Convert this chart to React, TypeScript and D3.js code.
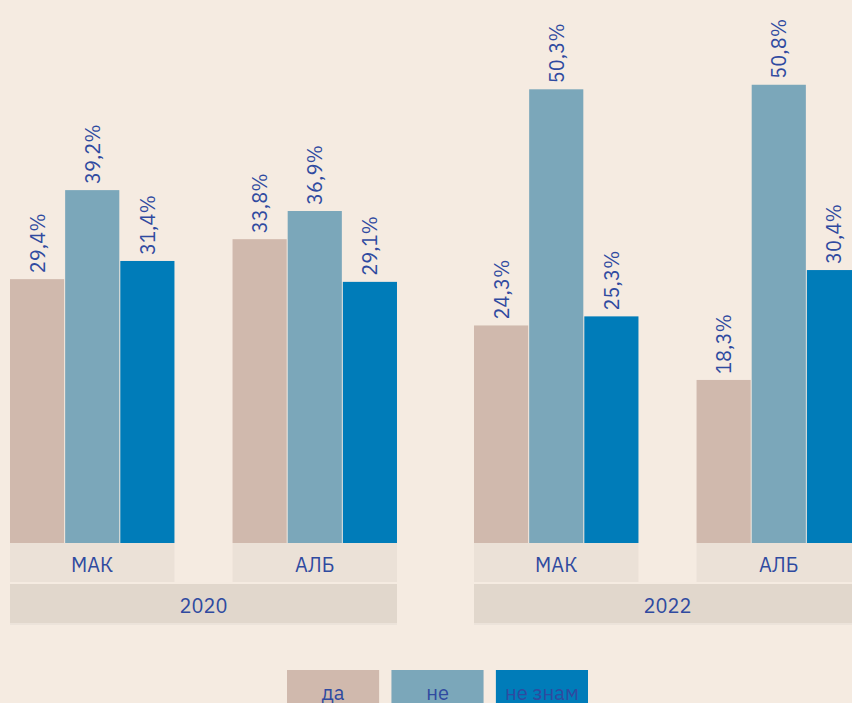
import React from 'react';
import * as d3 from 'd3';

const years = ['2020', '2022'];
const groups = ['МАК', 'АЛБ'];
const answers = ['да', 'не', 'не знам'];
// values[year][group][answer]
const values2020 = [[29.4, 39.2, 31.4], [33.8, 36.9, 29.1]];
const values2022 = [[24.3, 50.3, 25.3], [18.3, 50.8, 30.4]];
const allValues = [values2020, values2022];

const colors = ['#d0b9ad', '#7ba7ba', '#007cb9'];
const textColor = '#2f4aa0';
const font = "'IBM Plex Sans', 'Noto Sans', sans-serif";

function App() {
  const width = 852;
  const height = 703;
  const baseY = 543;

  const xYear = d3.scaleBand().domain(years).range([10, 861]).paddingInner(0.166);
  const xGroup = d3.scaleBand().domain(groups).range([0, xYear.bandwidth()]).paddingInner(0.261);
  const xAns = d3.scaleBand().domain(answers).range([0, xGroup.bandwidth()]).paddingInner(0.018);
  // axis starts a hair above zero
  const y = d3.scaleLinear().domain([0.35, 50.3]).range([baseY, 89.3]);

  const fmt = (v: number) => v.toFixed(1).replace('.', ',') + '%';

  const legendX = d3.scaleBand().domain(answers).range([287, 588]).paddingInner(0.118);

  return (
    <svg width={width} height={height} style={{ position: 'absolute', left: 0, top: 0, background: '#f5ebe1' }}>
      <rect width={width} height={height} fill="#f5ebe1" />
      {years.map((yr, yi) => {
        const x0 = xYear(yr)!;
        return (
          <g key={yr} transform={`translate(${x0},0)`}>
            {groups.map((g, gi) => {
              const x1 = xGroup(g)!;
              return (
                <g key={g} transform={`translate(${x1},0)`}>
                  {answers.map((a, ai) => {
                    const v = allValues[yi][gi][ai];
                    const bx = xAns(a)!;
                    const cx = bx + xAns.bandwidth() / 2;
                    return (
                      <g key={a}>
                        <rect x={bx} y={y(v)} width={xAns.bandwidth()} height={baseY - y(v)} fill={colors[ai]} />
                        <text
                          transform={`translate(${cx},${y(v) - 6}) rotate(-90)`}
                          dominantBaseline="central"
                          fontFamily={font}
                          fontSize={20}
                          fill={textColor}
                        >
                          {fmt(v)}
                        </text>
                      </g>
                    );
                  })}
                  <rect x={0} y={baseY} width={xGroup.bandwidth()} height={39} fill="#ebe1d7" />
                  <text
                    x={xGroup.bandwidth() / 2}
                    y={baseY + 21}
                    textAnchor="middle"
                    dominantBaseline="central"
                    fontFamily={font}
                    fontSize={20}
                    fill={textColor}
                  >
                    {g}
                  </text>
                </g>
              );
            })}
            <rect x={0} y={584} width={xYear.bandwidth()} height={41} fill="#ece3da" />
            <rect x={0} y={584} width={xYear.bandwidth()} height={39} fill="#e1d7cc" />
            <text
              x={xYear.bandwidth() / 2}
              y={605}
              textAnchor="middle"
              dominantBaseline="central"
              fontFamily={font}
              fontSize={20}
              fill={textColor}
            >
              {yr}
            </text>
          </g>
        );
      })}
      {answers.map((a, ai) => (
        <g key={a}>
          <rect x={legendX(a)!} y={670} width={legendX.bandwidth()} height={40} fill={colors[ai]} />
          <text
            x={legendX(a)! + legendX.bandwidth() / 2}
            y={692}
            textAnchor="middle"
            dominantBaseline="central"
            fontFamily={font}
            fontSize={20}
            fill={textColor}
          >
            {a}
          </text>
        </g>
      ))}
    </svg>
  );
}

export default App;
